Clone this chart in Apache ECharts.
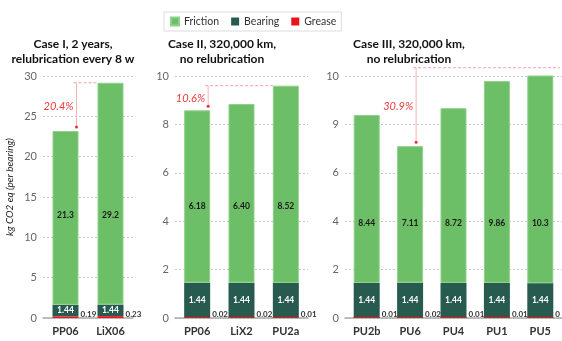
<!DOCTYPE html>
<html><head><meta charset="utf-8">
<script src="https://cdn.jsdelivr.net/npm/echarts@6/dist/echarts.min.js"></script>
<style>html,body{margin:0;padding:0;background:#fff}#c{width:562px;height:341px}</style>
</head><body><div id="c"></div>
<script>
// ---- data ----
const cats1 = ['PP06', 'LiX06'];
const cats2 = ['PP06', 'LiX2', 'PU2a'];
const cats3 = ['PU2b', 'PU6', 'PU4', 'PU1', 'PU5'];

const friction1 = [21.55, 27.49];
const frictionLabels1 = ['21.3', '29.2'];
const bearing1 = [1.44, 1.44];
const grease1 = [0.19, 0.23];

const friction2 = [7.12, 7.38, 8.15];
const frictionLabels2 = ['6.18', '6.40', '8.52'];
const bearing2 = [1.44, 1.44, 1.44];
const grease2 = [0.02, 0.02, 0.01];

const friction3 = [6.94, 5.64, 7.22, 8.34, 8.82];
const frictionLabels3 = ['8.44', '7.11', '8.72', '9.86', '10.3'];
const bearing3 = [1.44, 1.44, 1.44, 1.44, 1.44];
const grease3 = [0.01, 0.02, 0.01, 0.01, 0];

const titles = ['Case I, 2 years,\nrelubrication every 8 w', 'Case II, 320,000 km,\nno relubrication', 'Case III, 320,000 km,\nno relubrication'];
const yTicks1 = ['0', '5', '10', '15', '20', '25', '30'];
const yTicks2 = ['0', '2', '4', '6', '8', '10'];
const yTicks3 = ['0', '2', '4', '6', '9', '10'];
const pctLabels = ['20.4%', '10.6%', '30.9%'];
// annotation: [lower bar index, higher bar index]
const pctPairs = [[0, 1], [0, 2], [1, 4]];

const FONT = 'Lato, "Open Sans", sans-serif';
const C_FRIC = '#6cbf66', C_BEAR = '#285b50', C_GREASE = '#e8161b';

const panels = [
  {cats: cats1, fr: friction1, frl: frictionLabels1, be: bearing1, gr: grease1, yt: yTicks1, max: 30, interval: 5, left: 43, width: 90, lblDist: 85},
  {cats: cats2, fr: friction2, frl: frictionLabels2, be: bearing2, gr: grease2, yt: yTicks2, max: 10, interval: 2, left: 175, width: 133, lblDist: 72},
  {cats: cats3, fr: friction3, frl: frictionLabels3, be: bearing3, gr: grease3, yt: yTicks3, max: 10, interval: 2, left: 345, width: 218, lblDist: 55}
];

const grid = [], xAxis = [], yAxis = [], series = [];
panels.forEach((p, i) => {
  grid.push({left: p.left, width: p.width, top: 76, height: 242, containLabel: false});
  xAxis.push({type: 'category', gridIndex: i, data: p.cats,
    axisLine: {lineStyle: {color: '#aaa', width: 1.5}}, axisTick: {show: false},
    axisLabel: {color: '#333', fontSize: 11, fontWeight: 'bold', fontFamily: FONT, margin: 8}});
  yAxis.push({type: 'value', gridIndex: i, min: 0, max: p.max, interval: p.interval,
    axisLine: {show: false}, axisTick: {show: false},
    splitLine: {lineStyle: {color: '#c8c8c8', type: [2, 2]}},
    axisLabel: {color: '#666', fontSize: 11, fontFamily: FONT, margin: 6,
      formatter: (v) => p.yt[Math.round(v / p.interval)]},
    name: i === 0 ? 'kg CO2 eq (per bearing)' : '', nameLocation: 'middle', nameGap: 28,
    nameRotate: 90,
    nameTextStyle: {fontStyle: 'italic', fontSize: 10, color: '#222', fontFamily: FONT, padding: [0, 0, 0, 20]}});
  const stack = 's' + i;
  series.push({name: 'Grease', type: 'bar', stack, xAxisIndex: i, yAxisIndex: i, barWidth: 26, z: 4,
    data: p.gr, itemStyle: {color: C_GREASE}, barMinHeight: 1,
    label: {show: true, position: 'right', distance: 2, offset: [0, -3], fontSize: 8, fontWeight: 'bold', color: '#333', fontFamily: FONT,
      formatter: (d) => String(p.gr[d.dataIndex])}});
  series.push({name: 'Bearing', type: 'bar', stack, xAxisIndex: i, yAxisIndex: i, barWidth: 26,
    data: p.be, itemStyle: {color: C_BEAR},
    label: {show: true, position: 'inside', fontSize: 8.5, fontWeight: 'bold', color: '#fff', fontFamily: FONT,
      formatter: (d) => d.value.toFixed(2)}});
  series.push({name: 'Friction', type: 'bar', stack, xAxisIndex: i, yAxisIndex: i, barWidth: 26,
    data: p.fr, itemStyle: {color: C_FRIC, borderColor: '#8fd18a', borderWidth: 1},
    label: {show: true, position: 'insideBottom', distance: p.lblDist, fontSize: 8.5, fontWeight: 'bold', color: '#1a1a1a', fontFamily: FONT,
      formatter: (d) => p.frl[d.dataIndex]}});
});

const titleCenters = [73, 222, 409];
const chart = echarts.init(document.getElementById('c'), null, {renderer: 'canvas'});
chart.setOption({
  animation: false,
  textStyle: {fontFamily: FONT},
  legend: {data: ['Friction', 'Bearing', 'Grease'], top: 12, left: 164,
    itemWidth: 8, itemHeight: 8, itemGap: 12, icon: 'rect',
    borderColor: '#ddd', borderWidth: 1, padding: [4, 5, 4, 6],
    textStyle: {fontSize: 10.5, color: '#333', fontFamily: FONT}},
  grid, xAxis, yAxis, series
});

// annotations using the chart's own scales
const g = [];
titles.forEach((t, i) => {
  g.push({type: 'text', x: titleCenters[i], y: 37, style: {text: t, textAlign: 'center', textVerticalAlign: 'top',
    font: 'bold 12px ' + FONT, fill: '#111', lineHeight: 15}});
});
const xOffsets = [11, 11, 6];
panels.forEach((p, i) => {
  const [lo, hi] = pctPairs[i];
  const tot = k => p.fr[k] + p.be[k] + p.gr[k];
  const hiPt = chart.convertToPixel({xAxisIndex: i, yAxisIndex: i}, [hi, tot(hi)]);
  const loPt = chart.convertToPixel({xAxisIndex: i, yAxisIndex: i}, [lo, tot(lo)]);
  const vx = loPt[0] + xOffsets[i];
  const yTop = i === 2 ? hiPt[1] - 2 : hiPt[1];
  const xEnd = i === 2 ? p.left + p.width - 3 : hiPt[0] - 13;
  g.push({type: 'line', shape: {x1: vx - 3, y1: yTop, x2: xEnd, y2: yTop},
    style: {stroke: '#f4a3a3', lineWidth: 1, lineDash: [3, 2]}});
  g.push({type: 'line', shape: {x1: vx, y1: yTop, x2: vx, y2: loPt[1] - 4},
    style: {stroke: '#f5b3b3', lineWidth: 1}});
  g.push({type: 'circle', shape: {cx: vx, cy: loPt[1] - 4, r: 1.5}, style: {fill: '#e8303a'}});
  g.push({type: 'text', x: vx - 3, y: (yTop + loPt[1]) / 2, style: {text: pctLabels[i], textAlign: 'right', textVerticalAlign: 'middle',
    font: 'italic 11px ' + FONT, fill: '#ea3a3a'}});
});
chart.setOption({graphic: g});
</script></body></html>
